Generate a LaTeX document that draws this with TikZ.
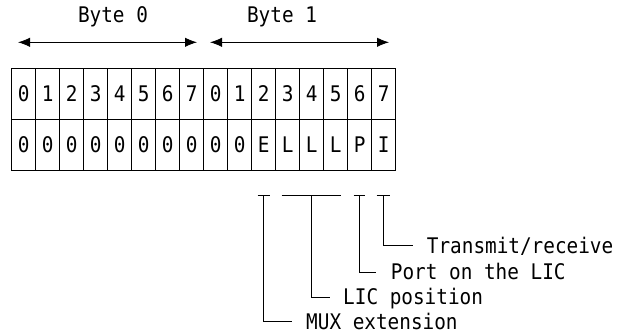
\documentclass[tikz,border=0pt]{standalone}
\usepackage{fontspec}
\setmonofont[FakeStretch=0.9]{DejaVu Sans Mono}
\usetikzlibrary{arrows.meta,positioning,calc}

\begin{document}
\begin{tikzpicture}[
  x=1pt, y=-1pt,
  font=\ttfamily\fontsize{21.5}{24}\selectfont,
  bit/.style={draw, line width=0.8pt, minimum width=24pt, minimum height=51pt, inner sep=0pt},
  span/.style={{Latex[length=12pt,width=9.5pt]}-{Latex[length=12pt,width=9.5pt]}, line width=0.9pt},
  brace/.style={line width=0.8pt},
  field/.style={anchor=west, inner sep=0pt, text height=15pt, text depth=0pt}
]
\useasboundingbox (0,0) rectangle (620,335);
% byte headings
\node (byte0) at (113,17) {Byte 0};
\node (byte1) at (282,17) {Byte 1};
\coordinate (b0l) at (18,42.3);
\coordinate (b0r) at (197,42.3);
\coordinate (b1l) at (210,42.3);
\coordinate (b1r) at (389,42.3);
\draw[span] (b0l) -- (b0r);
\draw[span] (b1l) -- (b1r);
% bit numbers and values
\foreach \b [count=\i from 0] in {0,1,2,3,4,5,6,7,0,1,2,3,4,5,6,7}
  \node[bit] (t\i) at ({23.7+24*\i},93.8) {\b};
\foreach \b [count=\i from 0] in {0,0,0,0,0,0,0,0,0,0,E,L,L,L,P,I}
  \node[bit] (v\i) at ({23.7+24*\i},145) {\b};
% field labels
\coordinate (brk) at (0,195);
\node[field] (mux)  at (306,321.5) {MUX extension};
\node[field] (lic)  at (343,297) {LIC position};
\node[field] (port) at (390.7,272) {Port on the LIC};
\node[field] (xmit) at (426.7,245.5) {Transmit/receive};
\draw[brace] ([xshift=-6pt]v10 |- brk) -- ([xshift=6pt]v10 |- brk);
\draw[brace] (v10 |- brk) -- (v10 |- mux.west) -- ([xshift=-14pt]mux.west);
\draw[brace] ([xshift=-30pt]v12 |- brk) -- ([xshift=29pt]v12 |- brk);
\draw[brace] (v12 |- brk) -- (v12 |- lic.west) -- ([xshift=-13pt]lic.west);
\draw[brace] ([xshift=-6pt]v14 |- brk) -- ([xshift=5pt]v14 |- brk);
\draw[brace] (v14 |- brk) -- (v14 |- port.west) -- ([xshift=-15pt]port.west);
\draw[brace] ([xshift=-7pt]v15 |- brk) -- ([xshift=6pt]v15 |- brk);
\draw[brace] (v15 |- brk) -- (v15 |- xmit.west) -- ([xshift=-14pt]xmit.west);
\end{tikzpicture}
\end{document}
